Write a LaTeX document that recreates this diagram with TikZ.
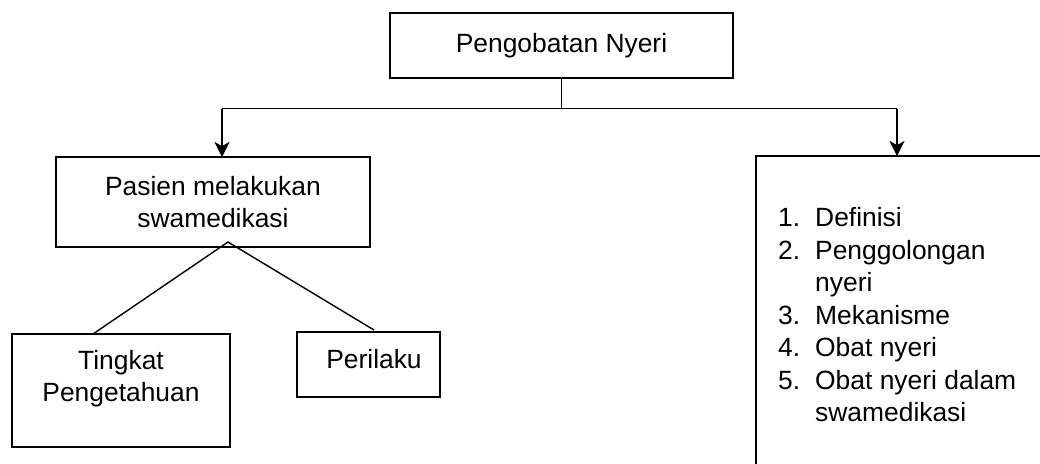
\documentclass[tikz,border=0pt]{standalone}
\usepackage{fontspec}
\setmainfont{Liberation Sans}
\usetikzlibrary{arrows.meta}
\begin{document}
\begin{tikzpicture}[x=1pt,y=-1pt,
  box/.style={draw,line width=2pt,rectangle,inner sep=0pt},
  txt/.style={inner sep=0pt,align=center,font=\fontsize{26.4}{32.5}\selectfont},
  conn/.style={line width=1.4pt},
  arr/.style={line width=1.6pt,-{Stealth[length=15pt,width=15pt,inset=4pt]}}]
\useasboundingbox[fill=white] (0,0) rectangle (1040,463);
% boxes
\node[box,minimum width=343pt,minimum height=65pt] (top) at (561.5,45.5) {};
\node[txt] (toptxt) at (561.5,45.5) {Pengobatan Nyeri};
\node[box,minimum width=314pt,minimum height=90pt] (pasien) at (213,202) {};
\node[txt] (pasientxt) at (213,202) {Pasien melakukan\\swamedikasi};
\node[box,minimum width=218pt,minimum height=113pt] (tingkat) at (121,390.5) {};
\node[txt] (tingkattxt) at (121,378.5) {Tingkat\\Pengetahuan};
\node[box,minimum width=143pt,minimum height=65pt] (perilaku) at (368.5,364.5) {};
\node[txt] (perilakutxt) at (374,359) {Perilaku};
\node[box,minimum width=400pt,minimum height=400pt,anchor=north west] (list) at (755,155) {};
\node[inner sep=0pt,anchor=north west,font=\fontsize{26.4}{32.5}\selectfont] (listtxt) at (778,204)
 {\begin{tabular}{@{}p{37pt}@{}l@{}}
 1. & Definisi\\
 2. & Penggolongan\\
    & nyeri\\
 3. & Mekanisme\\
 4. & Obat nyeri\\
 5. & Obat nyeri dalam\\
    & swamedikasi
 \end{tabular}};
% connectors
\coordinate (jl) at (222,108.5);
\coordinate (jr) at (897,108.5);
\coordinate (apex) at (228,242);
\coordinate (tl) at (93,334);
\coordinate (pr) at (374,330);
\draw[conn] (top.south) -- (top.south |- jl);
\draw[conn] (jl) -- (jr);
\draw[arr] (jl) -- ([yshift=-1pt]pasien.north -| jl);
\draw[arr] (jr) -- ([yshift=-1pt]list.north -| jr);
\draw[conn] (tl) -- (apex) -- (pr);
\end{tikzpicture}
\end{document}
